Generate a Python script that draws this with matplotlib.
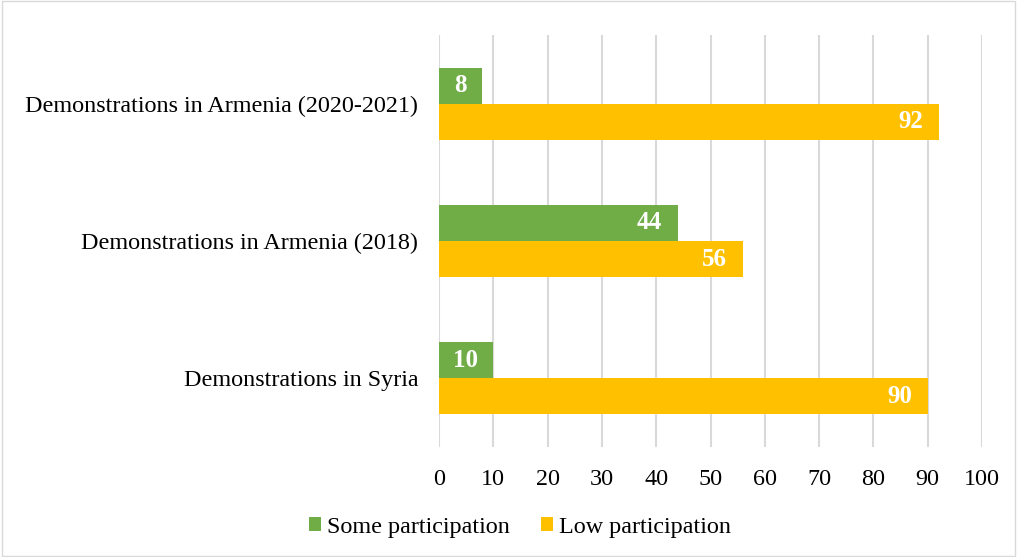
import matplotlib
matplotlib.use("Agg")
import matplotlib.pyplot as plt
import numpy as np

categories = ["Demonstrations in Syria", "Demonstrations in Armenia (2018)", "Demonstrations in Armenia (2020-2021)"]
some_participation = [10, 44, 8]
low_participation = [90, 56, 92]
series_names = ["Some participation", "Low participation"]
xticks = list(range(0, 101, 10))

green = "#70AD47"
orange = "#FFC000"

plt.rcParams['font.family'] = ['Liberation Serif', 'DejaVu Serif']
FS = 17.4

fig = plt.figure(figsize=(10.17, 5.57), dpi=100)
ax = fig.add_axes([439/1017, 1-447/557, (982-439)/1017, (447-35)/557])

y = np.arange(len(categories))
h = 0.263
b1 = ax.barh(y + h/2, some_participation, height=h, color=green, label=series_names[0], zorder=3)
b2 = ax.barh(y - h/2, low_participation, height=h, color=orange, label=series_names[1], zorder=3)

for bars, vals in ((b1, some_participation), (b2, low_participation)):
    for rect, v in zip(bars, vals):
        ax.text(rect.get_width() - 2.9, rect.get_y() + rect.get_height()/2, str(v),
                ha='right', va='center', color='white', fontweight='bold', fontsize=18, zorder=4)

ax.set_xlim(0, 100)
ax.set_ylim(-0.5, 2.5)
ax.set_xticks(xticks)
ax.set_yticks(y)
ax.set_yticklabels(categories)
ax.tick_params(axis='both', length=0, labelsize=FS, colors='black')
ax.tick_params(axis='x', pad=16)
ax.tick_params(axis='y', pad=15)
ax.grid(axis='x', color='#D9D9D9', linewidth=1.5, zorder=0)
for s in ax.spines.values():
    s.set_visible(False)

leg = fig.legend(handles=[b1, b2], labels=series_names, loc='center', bbox_to_anchor=(520/1017, 1-527/557),
                 ncol=2, frameon=False, fontsize=FS, handlelength=0.5, handleheight=0.5,
                 handletextpad=0.25, columnspacing=1.3)

border = plt.Rectangle((0.0015, 0.002), 0.997, 0.996, transform=fig.transFigure, fill=False,
                       edgecolor='#D9D9D9', linewidth=1)
fig.patches.append(border)

fig.savefig("out.png", dpi=100)
